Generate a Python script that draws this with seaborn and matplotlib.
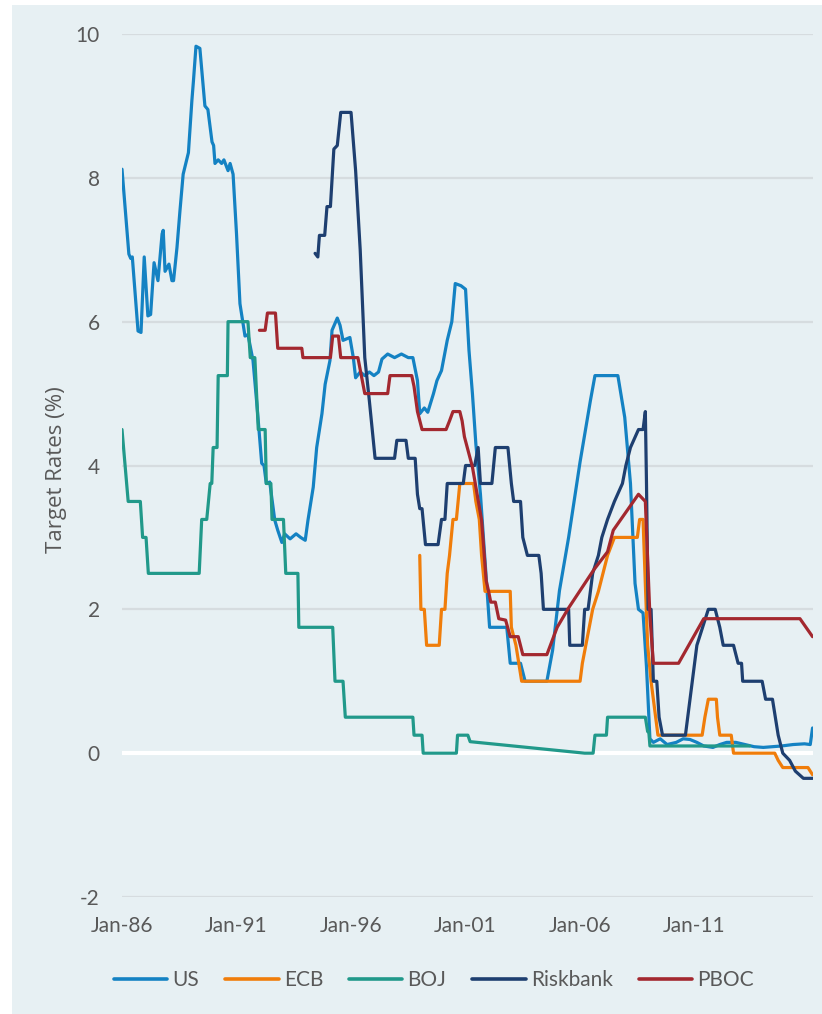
import pandas as pd
import seaborn as sns
import matplotlib.pyplot as plt
from matplotlib.patches import Rectangle

# decimal years and target rates (%)
US_T = [1986.0, 1986.3, 1986.38, 1986.45, 1986.7, 1986.83, 1986.97, 1987.13, 1987.25, 1987.4,
        1987.57, 1987.75, 1987.8, 1987.88, 1988.05, 1988.18, 1988.25, 1988.4, 1988.53, 1988.67,
        1988.9, 1989.05, 1989.12, 1989.23, 1989.4, 1989.62, 1989.75, 1989.93, 1990.0, 1990.06,
        1990.2, 1990.35, 1990.45, 1990.63, 1990.72, 1990.85, 1991.0, 1991.15, 1991.37, 1991.5,
        1991.72, 1991.9, 1992.1, 1992.2, 1992.3, 1992.45, 1992.67, 1992.8, 1992.98, 1993.1,
        1993.34, 1993.6, 1993.8, 1994.0, 1994.12, 1994.35, 1994.5, 1994.73, 1994.87, 1995.08,
        1995.17, 1995.4, 1995.52, 1995.65, 1995.95, 1996.1, 1996.2, 1996.4, 1996.6, 1996.8,
        1997.0, 1997.2, 1997.35, 1997.6, 1997.9, 1998.2, 1998.5, 1998.7, 1998.9, 1999.0,
        1999.2, 1999.35, 1999.6, 1999.75, 1999.95, 2000.2, 2000.4, 2000.55, 2000.8, 2001.0,
        2001.15, 2001.3, 2001.45, 2001.65, 2001.8, 2001.95, 2002.05, 2002.8, 2002.95, 2003.4,
        2003.6, 2004.55, 2004.8, 2005.1, 2005.5, 2006.0, 2006.45, 2006.65, 2007.65, 2007.95,
        2008.2, 2008.4, 2008.55, 2008.75, 2008.9, 2009.05, 2009.2, 2009.5, 2009.8, 2010.2,
        2010.5, 2010.8, 2011.1, 2011.4, 2011.8, 2012.1, 2012.4, 2012.8, 2013.2, 2013.6,
        2014.0, 2014.4, 2014.8, 2015.3, 2015.8, 2016.05, 2016.15]
US_R = [8.12, 6.94, 6.88, 6.9, 5.87, 5.85, 6.9, 6.08, 6.1, 6.82,
        6.57, 7.22, 7.27, 6.7, 6.8, 6.57, 6.57, 7.03, 7.54, 8.05,
        8.35, 9.07, 9.35, 9.83, 9.8, 9.0, 8.95, 8.5, 8.45, 8.2,
        8.25, 8.2, 8.25, 8.1, 8.2, 8.05, 7.22, 6.25, 5.8, 5.82,
        5.46, 4.81, 4.03, 4.0, 3.75, 3.77, 3.24, 3.1, 2.93, 3.05,
        2.98, 3.05, 3.0, 2.96, 3.24, 3.7, 4.25, 4.72, 5.13, 5.46,
        5.88, 6.05, 5.95, 5.74, 5.78, 5.5, 5.22, 5.3, 5.25, 5.3,
        5.25, 5.3, 5.48, 5.55, 5.5, 5.55, 5.5, 5.5, 5.18, 4.72,
        4.8, 4.74, 5.0, 5.18, 5.32, 5.74, 6.0, 6.53, 6.5, 6.45,
        5.6, 5.0, 4.3, 3.6, 2.9, 2.2, 1.75, 1.75, 1.25, 1.25,
        1.0, 1.0, 1.43, 2.26, 3.0, 4.05, 4.9, 5.25, 5.25, 4.67,
        3.75, 2.36, 2.0, 1.95, 1.2, 0.2, 0.15, 0.2, 0.12, 0.15,
        0.2, 0.19, 0.15, 0.1, 0.08, 0.12, 0.15, 0.15, 0.12, 0.09,
        0.08, 0.09, 0.1, 0.12, 0.13, 0.12, 0.35]

ECB_T = [1999.0, 1999.05, 1999.2, 1999.3, 1999.85, 1999.95, 2000.1, 2000.2, 2000.3, 2000.45,
         2000.6, 2000.75, 2001.35, 2001.45, 2001.6, 2001.7, 2001.85, 2002.95, 2003.0, 2003.2,
         2003.45, 2006.0, 2006.1, 2006.25, 2006.4, 2006.55, 2006.8, 2007.0, 2007.2, 2007.5,
         2008.5, 2008.6, 2008.75, 2008.85, 2008.95, 2009.1, 2009.3, 2009.4, 2011.33, 2011.45,
         2011.6, 2011.95, 2012.0, 2012.1, 2012.6, 2012.7, 2014.5, 2014.65, 2014.85, 2015.95,
         2016.15]
ECB_R = [2.75, 2.0, 2.0, 1.5, 1.5, 2.0, 2.0, 2.5, 2.75, 3.25,
         3.25, 3.75, 3.75, 3.5, 3.25, 2.75, 2.25, 2.25, 1.75, 1.5,
         1.0, 1.0, 1.25, 1.5, 1.75, 2.0, 2.25, 2.5, 2.75, 3.0,
         3.0, 3.25, 3.25, 2.35, 1.5, 1.0, 0.5, 0.25, 0.25, 0.5,
         0.75, 0.75, 0.5, 0.25, 0.25, 0.0, 0.0, -0.1, -0.2, -0.2,
         -0.3]

BOJ_T = [1986.0, 1986.27, 1986.8, 1986.9, 1987.05, 1987.15, 1989.37, 1989.48, 1989.7, 1989.85,
         1989.92, 1989.98, 1990.15, 1990.2, 1990.6, 1990.63, 1991.5, 1991.6, 1991.8, 1991.95,
         1992.25, 1992.3, 1992.5, 1992.55, 1993.05, 1993.15, 1993.68, 1993.72, 1995.2, 1995.3,
         1995.65, 1995.75, 1998.7, 1998.75, 1999.1, 1999.15, 2000.6, 2000.65, 2001.1, 2001.2,
         2006.2, 2006.57, 2006.65, 2007.15, 2007.2, 2008.85, 2008.95, 2009.0, 2009.05, 2013.4]
BOJ_R = [4.5, 3.5, 3.5, 3.0, 3.0, 2.5, 2.5, 3.25, 3.25, 3.75,
         3.75, 4.25, 4.25, 5.25, 5.25, 6.0, 6.0, 5.5, 5.5, 4.5,
         4.5, 3.75, 3.75, 3.25, 3.25, 2.5, 2.5, 1.75, 1.75, 1.0,
         1.0, 0.5, 0.5, 0.25, 0.25, 0.0, 0.0, 0.25, 0.25, 0.16,
         0.0, 0.0, 0.25, 0.25, 0.5, 0.5, 0.3, 0.3, 0.1, 0.1]

RIKS_T = [1994.43, 1994.55, 1994.62, 1994.85, 1994.95, 1995.1, 1995.25, 1995.4, 1995.55, 1996.0,
          1996.2, 1996.4, 1996.6, 1996.8, 1997.05, 1997.9, 1998.0, 1998.4, 1998.5, 1998.8,
          1998.9, 1999.0, 1999.1, 1999.25, 1999.8, 1999.95, 2000.1, 2000.2, 2000.9, 2001.0,
          2001.4, 2001.55, 2001.65, 2002.15, 2002.3, 2002.85, 2003.0, 2003.1, 2003.4, 2003.5,
          2003.7, 2004.2, 2004.3, 2004.4, 2005.5, 2005.55, 2006.1, 2006.2, 2006.35, 2006.55,
          2006.8, 2006.95, 2007.2, 2007.5, 2007.85, 2008.0, 2008.2, 2008.55, 2008.75, 2008.85,
          2008.9, 2008.97, 2009.1, 2009.2, 2009.35, 2009.45, 2009.6, 2010.6, 2010.7, 2010.9,
          2011.1, 2011.35, 2011.6, 2011.9, 2012.1, 2012.25, 2012.7, 2012.9, 2013.05, 2013.1,
          2013.95, 2014.1, 2014.4, 2014.65, 2014.85, 2015.15, 2015.4, 2015.75, 2016.15]
RIKS_R = [6.95, 6.9, 7.2, 7.2, 7.6, 7.6, 8.4, 8.45, 8.91, 8.91,
          8.1, 7.0, 5.5, 4.9, 4.1, 4.1, 4.35, 4.35, 4.1, 4.1,
          3.6, 3.4, 3.4, 2.9, 2.9, 3.25, 3.25, 3.75, 3.75, 4.0,
          4.0, 4.25, 3.75, 3.75, 4.25, 4.25, 3.75, 3.5, 3.5, 3.0,
          2.75, 2.75, 2.5, 2.0, 2.0, 1.5, 1.5, 2.0, 2.0, 2.5,
          2.75, 3.0, 3.25, 3.5, 3.75, 4.0, 4.25, 4.5, 4.5, 4.75,
          3.75, 2.0, 2.0, 1.0, 1.0, 0.5, 0.25, 0.25, 0.5, 1.0,
          1.5, 1.75, 2.0, 2.0, 1.75, 1.5, 1.5, 1.25, 1.25, 1.0,
          1.0, 0.75, 0.75, 0.25, 0.0, -0.1, -0.25, -0.35, -0.35]

PBOC_T = [1992.0, 1992.25, 1992.35, 1992.7, 1992.8, 1993.85, 1993.9, 1995.1, 1995.2, 1995.45,
          1995.55, 1996.3, 1996.45, 1996.6, 1997.6, 1997.7, 1998.65, 1998.75, 1998.9, 1999.1,
          2000.15, 2000.3, 2000.45, 2000.75, 2000.85, 2000.95, 2001.3, 2001.7, 2001.9, 2002.0,
          2002.1, 2002.3, 2002.45, 2002.75, 2002.95, 2003.3, 2003.5, 2004.55, 2005.0, 2005.5,
          2006.6, 2007.2, 2007.45, 2008.55, 2008.85, 2009.05, 2009.2, 2010.3, 2011.4, 2015.6,
          2016.15]
PBOC_R = [5.88, 5.88, 6.12, 6.12, 5.63, 5.63, 5.5, 5.5, 5.8, 5.8,
          5.5, 5.5, 5.25, 5.0, 5.0, 5.25, 5.25, 5.1, 4.75, 4.5,
          4.5, 4.62, 4.75, 4.75, 4.62, 4.4, 3.98, 3.24, 2.4, 2.26,
          2.1, 2.1, 1.87, 1.85, 1.62, 1.62, 1.37, 1.37, 1.75, 2.02,
          2.55, 2.8, 3.1, 3.6, 3.5, 1.9, 1.25, 1.25, 1.87, 1.87,
          1.62]

BANKS = ["US", "ECB", "BOJ", "Riskbank", "PBOC"]
COLORS = ["#1482c3", "#f07d0a", "#21998a", "#1e3f70", "#a3282f"]
TICK_YEARS = [1986, 1991, 1996, 2001, 2006, 2011]
TICK_LABELS = ["Jan-86", "Jan-91", "Jan-96", "Jan-01", "Jan-06", "Jan-11"]

BG = "#e7f0f3"
TXT = "#595959"

series = [(US_T, US_R), (ECB_T, ECB_R), (BOJ_T, BOJ_R), (RIKS_T, RIKS_R), (PBOC_T, PBOC_R)]
frames = [pd.DataFrame({"year": t, "rate": r, "bank": b}) for b, (t, r) in zip(BANKS, series)]
df = pd.concat(frames, ignore_index=True)

sns.set_style("white")
plt.rcParams["font.family"] = ["Lato", "DejaVu Sans"]
plt.rcParams["axes.unicode_minus"] = False

fig = plt.figure(figsize=(8.22, 10.14), dpi=100)
fig.patch.set_facecolor("white")
fig.patches.append(Rectangle((12 / 822, 0), 1, 1 - 5 / 1014, transform=fig.transFigure,
                             facecolor=BG, edgecolor="none", zorder=-10))

ax = fig.add_axes([122 / 822, 1 - 897 / 1014, 691 / 822, 863 / 1014])
ax.set_facecolor(BG)

sns.lineplot(data=df, x="year", y="rate", hue="bank", hue_order=BANKS,
             palette=COLORS, estimator=None, sort=False, linewidth=2.3, ax=ax)

ax.axhline(0, color="white", linewidth=3, zorder=1.5)
ax.set_xlim(1986.0, 2016.17)
ax.set_ylim(-2, 10)
ax.set_yticks([-2, 0, 2, 4, 6, 8, 10])
ax.set_xticks(TICK_YEARS)
ax.set_xticklabels(TICK_LABELS)
ax.yaxis.grid(True, color="#d6dcdf", linewidth=1.6)
ax.xaxis.grid(False)
ax.set_axisbelow(True)
for s in ax.spines.values():
    s.set_visible(False)
ax.tick_params(axis="both", length=0, labelsize=15, colors=TXT)
ax.tick_params(axis="y", pad=16)
ax.tick_params(axis="x", pad=14)
ax.set_xlabel("")
ax.set_ylabel("Target Rates (%)", fontsize=16, color=TXT, family=["Open Sans", "DejaVu Sans"])
ax.yaxis.set_label_coords(-0.0796, 0.495)

handles, labels = ax.get_legend_handles_labels()
ax.get_legend().remove()
for h in handles:
    h.set_linewidth(2.6)
fig.legend(handles, labels, loc="center", bbox_to_anchor=(434 / 822, 1 - 980 / 1014),
           ncol=5, frameon=False, fontsize=15, labelcolor=TXT,
           handlelength=2.55, handletextpad=0.25, columnspacing=1.25)

fig.savefig("out.png", dpi=100, facecolor=fig.get_facecolor())
